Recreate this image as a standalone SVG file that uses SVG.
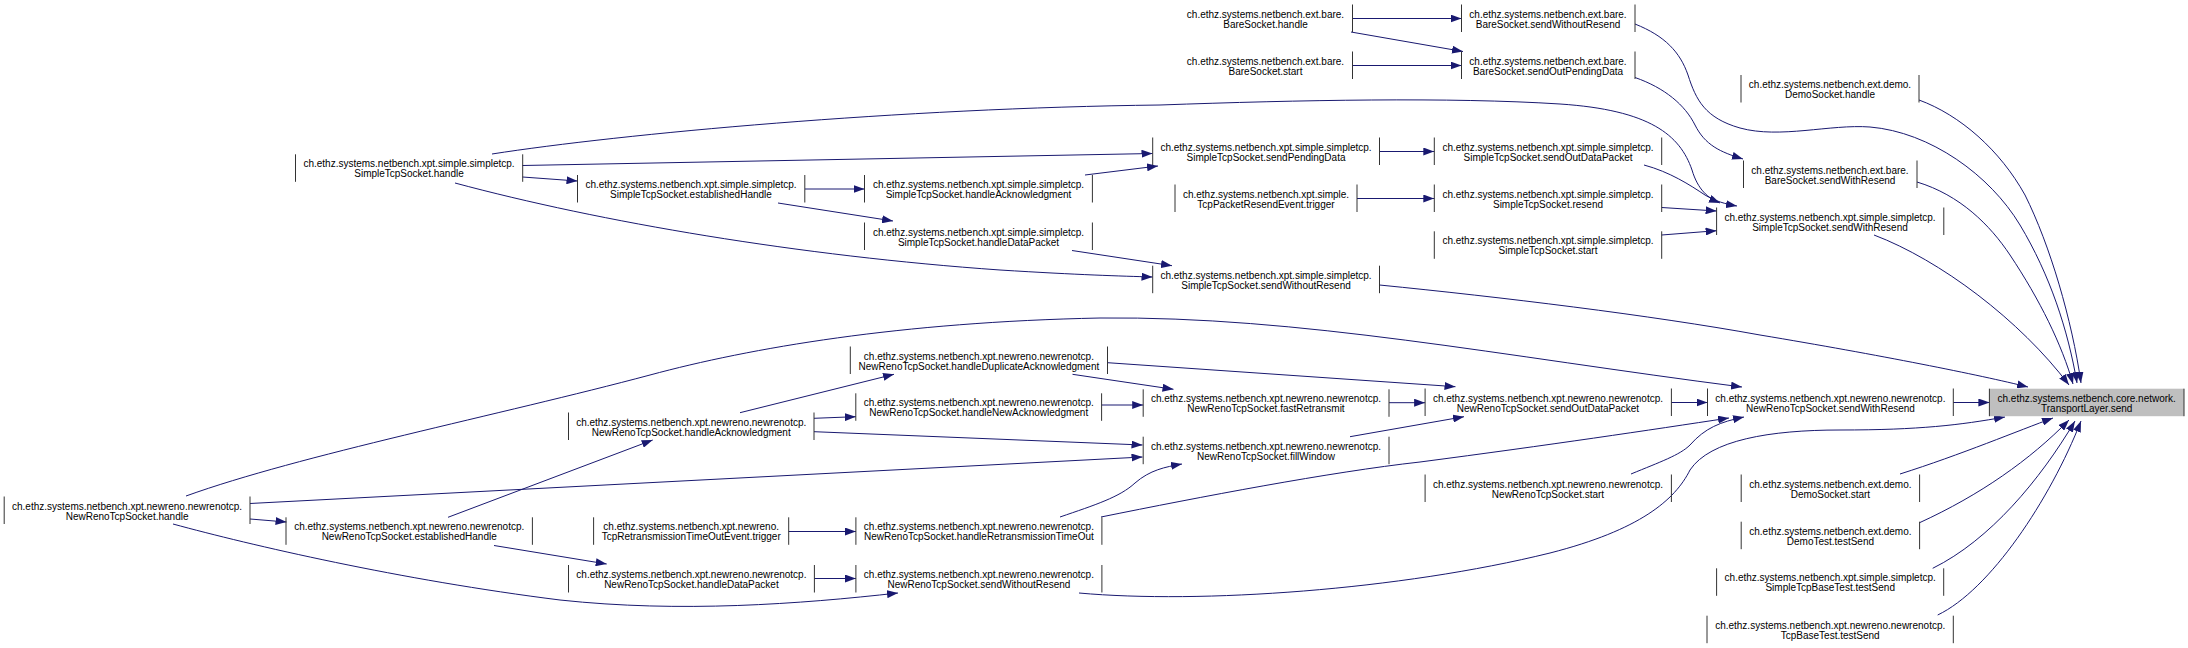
<svg xmlns="http://www.w3.org/2000/svg" width="2188" height="648" viewBox="0 0 2188 648">
<style>
text{font-family:"Liberation Sans",Arial,Helvetica,sans-serif;font-size:10px;text-anchor:middle;fill:#000}
.b{stroke:#333;stroke-width:1;fill:none}
#edges path{fill:none;stroke:#191970;stroke-width:1;marker-end:url(#ah)}
</style>
<defs>
<marker id="ah" viewBox="0 0 11 8" refX="11" refY="4" markerWidth="11" markerHeight="8" markerUnits="userSpaceOnUse" orient="auto"><path d="M0,0L11,4L0,8z" fill="#191970"/></marker>
</defs>
<rect width="2188" height="648" fill="#fff"/>
<g id="edges">
<path d="M1352.5,18.5H1461.5"/>
<path d="M1351,32L1463,51.5"/>
<path d="M1352.5,65.5H1461.5"/>
<path d="M1635,24C1665,36 1680,52 1688,75C1696,100 1705,118 1740,128C1780,139 1830,124 1870,127C1930,132 1990,175 2020,225C2050,275 2068,330 2077,383"/>
<path d="M1919,100C1960,115 2000,150 2025,195C2050,245 2072,320 2081,383"/>
<path d="M1917,182C1960,195 1990,225 2010,255C2040,300 2062,345 2073,384"/>
<path d="M1874,235C1940,260 2020,320 2069,385"/>
<path d="M1379.5,285C1500,297 1650,315 1760,335C1880,355 1980,375 2028,387"/>
<path d="M1635,77.5C1665,88 1685,105 1695,125C1705,145 1720,152 1743,159"/>
<path d="M492,154C620,134 900,108 1160,105C1300,100 1450,97 1560,104C1650,110 1680,135 1692,170C1698,190 1708,198 1720,203"/>
<path d="M522.5,165.5L1152.5,153.5"/>
<path d="M522.5,177L577.5,181"/>
<path d="M455,183C600,222 800,256 1000,270C1080,275 1120,276 1152.5,277"/>
<path d="M805,189H864.5"/>
<path d="M778,203L893,221"/>
<path d="M1085,175L1158,166"/>
<path d="M1072,250.5L1172,265.7"/>
<path d="M1379.5,151.5H1434.3"/>
<path d="M1357,198.5H1434.3"/>
<path d="M1644,165C1670,172 1690,185 1705,195C1715,201 1725,204 1737,206"/>
<path d="M1661.7,207.5L1716.6,211"/>
<path d="M1661.7,235L1716.6,230.7"/>
<path d="M186,496C300,455 500,415 650,375C750,348 900,322 1100,318C1300,316 1500,356 1742,387"/>
<path d="M250,503.5L1142.5,457"/>
<path d="M250,519L286.5,522"/>
<path d="M173,524C250,545 400,580 560,600C680,613 800,604 898,593"/>
<path d="M448,517.3L652.7,440"/>
<path d="M494,545.5L606.7,564"/>
<path d="M740,412.7L894,374.3"/>
<path d="M814,418.3L855.8,416.7"/>
<path d="M814,431.7L1142.5,445"/>
<path d="M1072.5,374.3L1173.5,389.3"/>
<path d="M1107.5,362.7L1455.5,386.7"/>
<path d="M1101.6,405H1143.2"/>
<path d="M1389,402.7H1425.1"/>
<path d="M1350,436.7L1464,416.7"/>
<path d="M1671.4,402.5H1707.5"/>
<path d="M1953.3,402.5H1989.4"/>
<path d="M1060,517C1095,505 1120,497 1135,483C1150,470 1165,467 1182,464"/>
<path d="M1101,517C1200,497 1330,472 1420,462C1550,445 1650,430 1729,418"/>
<path d="M1631,474C1660,462 1680,455 1690,445C1705,428 1720,422 1744,417"/>
<path d="M1079,593C1200,604 1400,590 1550,553C1640,530 1675,500 1690,470C1710,440 1770,430 1840,430C1920,430 1960,425 2005,417"/>
<path d="M788.7,531.5H855.9"/>
<path d="M814.4,578.5H855.9"/>
<path d="M1900,474C1960,455 2020,430 2053,418"/>
<path d="M1919.6,522.7C1980,495 2030,460 2069,420"/>
<path d="M1932.7,568.3C1990,540 2040,480 2075,421"/>
<path d="M1937.7,615C1990,590 2050,500 2081,421"/>
</g>
<g id="n_bare_handle"><path class="b" d="M1352.5,4.5V32"/><text x="1265.5" y="17.5">ch.ethz.systems.netbench.ext.bare.</text><text x="1265.5" y="27.5">BareSocket.handle</text></g>
<g id="n_bare_start"><path class="b" d="M1352.5,51.5V79"/><text x="1265.5" y="64.5">ch.ethz.systems.netbench.ext.bare.</text><text x="1265.5" y="74.5">BareSocket.start</text></g>
<g id="n_bare_swor"><path class="b" d="M1461.5,4.5V32M1635,4.5V32"/><text x="1548" y="17.5">ch.ethz.systems.netbench.ext.bare.</text><text x="1548" y="27.5">BareSocket.sendWithoutResend</text></g>
<g id="n_bare_sopd"><path class="b" d="M1461.5,51.5V79M1635,51.5V79"/><text x="1548" y="64.5">ch.ethz.systems.netbench.ext.bare.</text><text x="1548" y="74.5">BareSocket.sendOutPendingData</text></g>
<g id="n_demo_handle"><path class="b" d="M1741,75V102.5M1919,75V102.5"/><text x="1830" y="88">ch.ethz.systems.netbench.ext.demo.</text><text x="1830" y="98">DemoSocket.handle</text></g>
<g id="n_bare_swr"><path class="b" d="M1743.5,160.5V188M1917,160.5V188"/><text x="1830" y="173.5">ch.ethz.systems.netbench.ext.bare.</text><text x="1830" y="183.5">BareSocket.sendWithResend</text></g>
<g id="n_s_swr"><path class="b" d="M1716.6,207.5V235M1943.8,207.5V235"/><text x="1830" y="220.5">ch.ethz.systems.netbench.xpt.simple.simpletcp.</text><text x="1830" y="230.5">SimpleTcpSocket.sendWithResend</text></g>
<g id="n_s_handle"><path class="b" d="M295.5,154.3V181.8M522.7,154.3V181.8"/><text x="409" y="167.3">ch.ethz.systems.netbench.xpt.simple.simpletcp.</text><text x="409" y="177.3">SimpleTcpSocket.handle</text></g>
<g id="n_s_spd"><path class="b" d="M1152.7,137.5V165M1379.5,137.5V165"/><text x="1266" y="150.5">ch.ethz.systems.netbench.xpt.simple.simpletcp.</text><text x="1266" y="160.5">SimpleTcpSocket.sendPendingData</text></g>
<g id="n_s_sodp"><path class="b" d="M1434.3,137.5V165M1661.7,137.5V165"/><text x="1548" y="150.5">ch.ethz.systems.netbench.xpt.simple.simpletcp.</text><text x="1548" y="160.5">SimpleTcpSocket.sendOutDataPacket</text></g>
<g id="n_s_est"><path class="b" d="M577.5,175V202.5M804.8,175V202.5"/><text x="691" y="188">ch.ethz.systems.netbench.xpt.simple.simpletcp.</text><text x="691" y="198">SimpleTcpSocket.establishedHandle</text></g>
<g id="n_s_hack"><path class="b" d="M864.5,175V202.5M1092.4,175V202.5"/><text x="978.5" y="188">ch.ethz.systems.netbench.xpt.simple.simpletcp.</text><text x="978.5" y="198">SimpleTcpSocket.handleAcknowledgment</text></g>
<g id="n_s_trig"><path class="b" d="M1175,184.5V212M1357,184.5V212"/><text x="1266" y="197.5">ch.ethz.systems.netbench.xpt.simple.</text><text x="1266" y="207.5">TcpPacketResendEvent.trigger</text></g>
<g id="n_s_resend"><path class="b" d="M1434.3,184.5V212M1661.7,184.5V212"/><text x="1548" y="197.5">ch.ethz.systems.netbench.xpt.simple.simpletcp.</text><text x="1548" y="207.5">SimpleTcpSocket.resend</text></g>
<g id="n_s_hdp"><path class="b" d="M864.5,222.5V250M1092.4,222.5V250"/><text x="978.5" y="235.5">ch.ethz.systems.netbench.xpt.simple.simpletcp.</text><text x="978.5" y="245.5">SimpleTcpSocket.handleDataPacket</text></g>
<g id="n_s_start"><path class="b" d="M1434.3,231.3V258.8M1661.7,231.3V258.8"/><text x="1548" y="244.3">ch.ethz.systems.netbench.xpt.simple.simpletcp.</text><text x="1548" y="254.3">SimpleTcpSocket.start</text></g>
<g id="n_s_swor"><path class="b" d="M1152.7,265.7V293.2M1379.5,265.7V293.2"/><text x="1266" y="278.7">ch.ethz.systems.netbench.xpt.simple.simpletcp.</text><text x="1266" y="288.7">SimpleTcpSocket.sendWithoutResend</text></g>
<g id="n_tl_send"><rect x="1989.4" y="388.7" width="194.6" height="27.5" fill="#bfbfbf"/><path class="b" d="M1989.4,388.7V416.2M2184,388.7V416.2"/><text x="2086.7" y="401.7">ch.ethz.systems.netbench.core.network.</text><text x="2086.7" y="411.7">TransportLayer.send</text></g>
<g id="n_n_dupack"><path class="b" d="M850.3,346.5V374M1107.5,346.5V374"/><text x="978.9" y="359.5">ch.ethz.systems.netbench.xpt.newreno.newrenotcp.</text><text x="978.9" y="369.5">NewRenoTcpSocket.handleDuplicateAcknowledgment</text></g>
<g id="n_n_newack"><path class="b" d="M855.8,393.3V420.8M1101.6,393.3V420.8"/><text x="978.7" y="406.3">ch.ethz.systems.netbench.xpt.newreno.newrenotcp.</text><text x="978.7" y="416.3">NewRenoTcpSocket.handleNewAcknowledgment</text></g>
<g id="n_n_fastre"><path class="b" d="M1143.2,389.3V416.8M1389,389.3V416.8"/><text x="1266" y="402.3">ch.ethz.systems.netbench.xpt.newreno.newrenotcp.</text><text x="1266" y="412.3">NewRenoTcpSocket.fastRetransmit</text></g>
<g id="n_n_fill"><path class="b" d="M1143.2,436.7V464.2M1389,436.7V464.2"/><text x="1266" y="449.7">ch.ethz.systems.netbench.xpt.newreno.newrenotcp.</text><text x="1266" y="459.7">NewRenoTcpSocket.fillWindow</text></g>
<g id="n_n_sodp"><path class="b" d="M1425.1,388.5V416M1671.4,388.5V416"/><text x="1548" y="401.5">ch.ethz.systems.netbench.xpt.newreno.newrenotcp.</text><text x="1548" y="411.5">NewRenoTcpSocket.sendOutDataPacket</text></g>
<g id="n_n_swr"><path class="b" d="M1707.5,388.5V416M1953.3,388.5V416"/><text x="1830.4" y="401.5">ch.ethz.systems.netbench.xpt.newreno.newrenotcp.</text><text x="1830.4" y="411.5">NewRenoTcpSocket.sendWithResend</text></g>
<g id="n_n_hack"><path class="b" d="M568.5,412.5V440M814,412.5V440"/><text x="691.2" y="425.5">ch.ethz.systems.netbench.xpt.newreno.newrenotcp.</text><text x="691.2" y="435.5">NewRenoTcpSocket.handleAcknowledgment</text></g>
<g id="n_n_start"><path class="b" d="M1425.1,474.5V502M1671.4,474.5V502"/><text x="1548" y="487.5">ch.ethz.systems.netbench.xpt.newreno.newrenotcp.</text><text x="1548" y="497.5">NewRenoTcpSocket.start</text></g>
<g id="n_demo_start"><path class="b" d="M1741.2,474.5V502M1919.6,474.5V502"/><text x="1830.4" y="487.5">ch.ethz.systems.netbench.ext.demo.</text><text x="1830.4" y="497.5">DemoSocket.start</text></g>
<g id="n_n_handle"><path class="b" d="M4.2,496.5V524M250,496.5V524"/><text x="127.1" y="509.5">ch.ethz.systems.netbench.xpt.newreno.newrenotcp.</text><text x="127.1" y="519.5">NewRenoTcpSocket.handle</text></g>
<g id="n_n_est"><path class="b" d="M286,517.3V544.8M532.4,517.3V544.8"/><text x="409.2" y="530.3">ch.ethz.systems.netbench.xpt.newreno.newrenotcp.</text><text x="409.2" y="540.3">NewRenoTcpSocket.establishedHandle</text></g>
<g id="n_n_trig"><path class="b" d="M593.6,517.3V544.8M788.7,517.3V544.8"/><text x="691.2" y="530.3">ch.ethz.systems.netbench.xpt.newreno.</text><text x="691.2" y="540.3">TcpRetransmissionTimeOutEvent.trigger</text></g>
<g id="n_n_hrto"><path class="b" d="M855.9,517.3V544.8M1101.9,517.3V544.8"/><text x="978.9" y="530.3">ch.ethz.systems.netbench.xpt.newreno.newrenotcp.</text><text x="978.9" y="540.3">NewRenoTcpSocket.handleRetransmissionTimeOut</text></g>
<g id="n_demo_test"><path class="b" d="M1741.2,521.7V549.2M1919.6,521.7V549.2"/><text x="1830.4" y="534.7">ch.ethz.systems.netbench.ext.demo.</text><text x="1830.4" y="544.7">DemoTest.testSend</text></g>
<g id="n_n_hdp"><path class="b" d="M568.5,565V592.5M814.4,565V592.5"/><text x="691.4" y="578">ch.ethz.systems.netbench.xpt.newreno.newrenotcp.</text><text x="691.4" y="588">NewRenoTcpSocket.handleDataPacket</text></g>
<g id="n_n_swor"><path class="b" d="M855.9,565V592.5M1101.9,565V592.5"/><text x="978.9" y="578">ch.ethz.systems.netbench.xpt.newreno.newrenotcp.</text><text x="978.9" y="588">NewRenoTcpSocket.sendWithoutResend</text></g>
<g id="n_s_basetest"><path class="b" d="M1716.6,568.3V595.8M1943.7,568.3V595.8"/><text x="1830.2" y="581.3">ch.ethz.systems.netbench.xpt.simple.simpletcp.</text><text x="1830.2" y="591.3">SimpleTcpBaseTest.testSend</text></g>
<g id="n_n_basetest"><path class="b" d="M1707,615.7V643.2M1953.3,615.7V643.2"/><text x="1830.2" y="628.7">ch.ethz.systems.netbench.xpt.newreno.newrenotcp.</text><text x="1830.2" y="638.7">TcpBaseTest.testSend</text></g>
</svg>
